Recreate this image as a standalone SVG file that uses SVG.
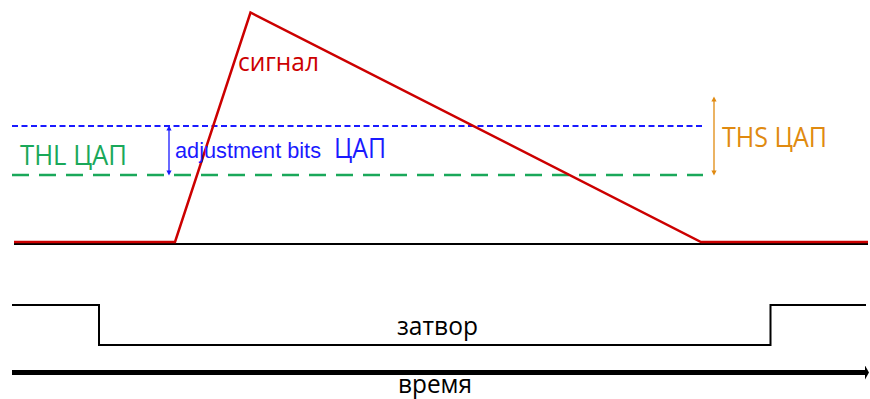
<svg xmlns="http://www.w3.org/2000/svg" width="870" height="399" viewBox="0 0 870 399">
<style>
.t{font-family:"Open Sans","DejaVu Sans",sans-serif;}
.a{font-family:"Liberation Sans",Arial,sans-serif;}
</style>
<defs>
<marker id="ab" viewBox="0 0 10 10" refX="5" refY="5" markerWidth="4" markerHeight="4" orient="auto-start-reverse"><path d="M0,0 L10,5 L0,10 z" fill="#1a1aff"/></marker>
<marker id="ao" viewBox="0 0 10 10" refX="5" refY="5" markerWidth="4" markerHeight="4" orient="auto-start-reverse"><path d="M0,0 L10,5 L0,10 z" fill="#e08a10"/></marker>
<marker id="ak" viewBox="0 0 4 14" refX="1" refY="7" markerWidth="4" markerHeight="14" markerUnits="userSpaceOnUse" orient="auto"><path d="M0,0 L4,7 L0,14 z" fill="#000"/></marker>
</defs>
<rect width="870" height="399" fill="#fff"/>
<g id="connectors">
<line x1="14" y1="244" x2="868" y2="244" stroke="#000" stroke-width="2"/>
<line x1="12" y1="126" x2="703" y2="126" stroke="#1a1aff" stroke-width="2" stroke-dasharray="6,3.5"/>
<line x1="12" y1="175" x2="703" y2="175" stroke="#1aa85a" stroke-width="2.5" stroke-dasharray="17,10"/>
<polyline points="14,242 175,242 250.5,12.5 701,242 868,242" fill="none" stroke="#cc0000" stroke-width="2.5"/>
<line x1="169" y1="128" x2="169" y2="173" stroke="#1a1aff" stroke-width="1.3" marker-start="url(#ab)" marker-end="url(#ab)"/>
<line x1="714" y1="99" x2="714" y2="173" stroke="#e08a10" stroke-width="1.3" marker-start="url(#ao)" marker-end="url(#ao)"/>
<polyline points="12,305 99,305 99,345 770.5,345 770.5,305 866,305" fill="none" stroke="#000" stroke-width="2"/>
<line x1="12" y1="372.5" x2="866" y2="372.5" stroke="#000" stroke-width="5" marker-end="url(#ak)"/>
</g>
<g id="signal-label"><text class="t" x="238" y="71" font-size="26" textLength="81" lengthAdjust="spacingAndGlyphs" fill="#cc0000">сигнал</text></g>
<g id="adjust-label"><text class="a" x="175" y="158" font-size="22" textLength="146" lengthAdjust="spacingAndGlyphs" fill="#1a1aff">adjustment bits</text><text class="t" x="334" y="158" font-size="27" textLength="52" lengthAdjust="spacingAndGlyphs" fill="#1a1aff">ЦАП</text></g>
<g id="thl-label"><text class="t" x="20" y="165" font-size="28" textLength="107" lengthAdjust="spacingAndGlyphs" fill="#1aa85a">THL ЦАП</text></g>
<g id="ths-label"><text class="t" x="722" y="146.5" font-size="28" textLength="105" lengthAdjust="spacingAndGlyphs" fill="#e08a10">THS ЦАП</text></g>
<g id="gate-label"><text class="t" x="397" y="335" font-size="26" textLength="81" lengthAdjust="spacingAndGlyphs" fill="#000">затвор</text></g>
<g id="time-label"><text class="t" x="398" y="392.5" font-size="25" textLength="74" lengthAdjust="spacingAndGlyphs" fill="#000">время</text></g>
</svg>
